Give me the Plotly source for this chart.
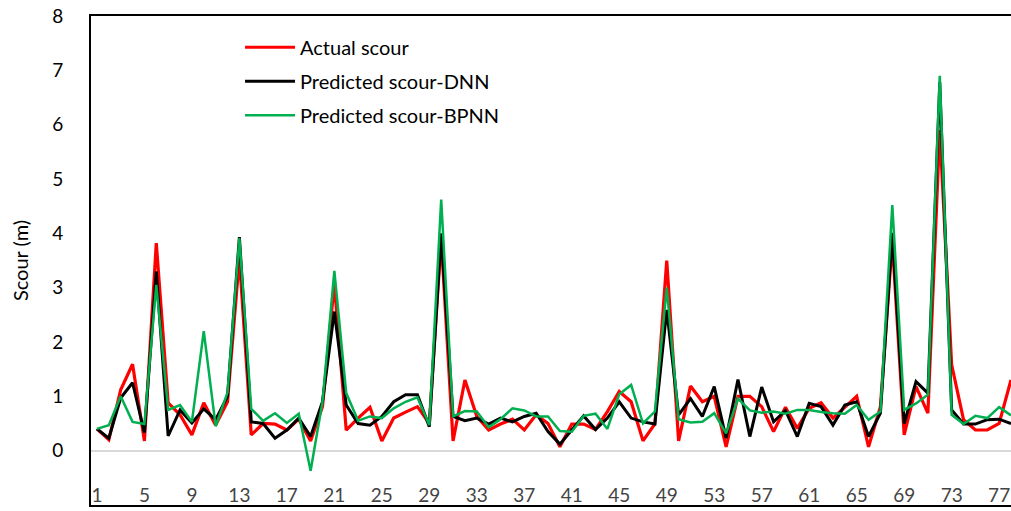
import plotly.graph_objects as go

cases = list(range(1, 79))
actual = [0.40, 0.20, 1.12, 1.59, 0.18, 3.82, 0.88, 0.66, 0.29, 0.88,
          0.47, 0.90, 3.55, 0.29, 0.50, 0.49, 0.38, 0.58, 0.18, 0.81,
          3.08, 0.38, 0.60, 0.80, 0.18, 0.60, 0.71, 0.81, 0.50, 3.90,
          0.18, 1.30, 0.63, 0.38, 0.49, 0.58, 0.38, 0.66, 0.50, 0.07,
          0.49, 0.49, 0.39, 0.72, 1.09, 0.90, 0.18, 0.49, 3.50, 0.18,
          1.19, 0.90, 1.00, 0.07, 1.00, 1.00, 0.81, 0.35, 0.80, 0.41,
          0.78, 0.88, 0.60, 0.81, 1.00, 0.07, 0.81, 3.85, 0.29, 1.18,
          0.69, 5.90, 1.58, 0.57, 0.38, 0.38, 0.50, 1.30]
dnn = [0.40, 0.23, 0.97, 1.25, 0.33, 3.30, 0.27, 0.75, 0.51, 0.77,
       0.57, 1.00, 3.93, 0.53, 0.50, 0.23, 0.38, 0.60, 0.26, 0.90,
       2.56, 0.84, 0.50, 0.47, 0.63, 0.90, 1.03, 1.03, 0.44, 4.00,
       0.63, 0.55, 0.60, 0.49, 0.60, 0.53, 0.63, 0.69, 0.35, 0.12,
       0.38, 0.64, 0.39, 0.60, 0.90, 0.60, 0.53, 0.49, 2.59, 0.66,
       0.96, 0.63, 1.18, 0.23, 1.31, 0.26, 1.17, 0.53, 0.74, 0.26,
       0.87, 0.81, 0.47, 0.84, 0.90, 0.26, 0.69, 4.01, 0.50, 1.27,
       1.06, 6.78, 0.75, 0.49, 0.49, 0.57, 0.58, 0.50]
bpnn = [0.40, 0.47, 1.00, 0.53, 0.49, 3.05, 0.75, 0.84, 0.53, 2.20,
        0.45, 1.07, 3.91, 0.77, 0.55, 0.69, 0.51, 0.68, -0.37, 0.90,
        3.31, 1.06, 0.55, 0.63, 0.60, 0.78, 0.90, 0.98, 0.47, 4.62,
        0.63, 0.73, 0.72, 0.43, 0.58, 0.78, 0.74, 0.63, 0.63, 0.36,
        0.35, 0.64, 0.68, 0.40, 1.04, 1.21, 0.50, 0.72, 3.00, 0.58,
        0.52, 0.53, 0.69, 0.32, 0.96, 0.74, 0.70, 0.72, 0.68, 0.75,
        0.75, 0.71, 0.69, 0.68, 0.84, 0.57, 0.72, 4.52, 0.75, 0.87,
        1.03, 6.90, 0.66, 0.49, 0.64, 0.60, 0.80, 0.65]
x_ticks = list(range(1, 78, 4))

FONT = "Lato"

fig = go.Figure()
fig.add_trace(go.Scatter(x=cases, y=actual, mode="lines", name="Actual scour",
                         line=dict(color="#FF0000", width=3.2), legendgroup="a"))
fig.add_trace(go.Scatter(x=cases, y=dnn, mode="lines", name="Predicted scour-DNN",
                         line=dict(color="#000000", width=3), legendgroup="b"))
fig.add_trace(go.Scatter(x=cases, y=bpnn, mode="lines", name="Predicted scour-BPNN",
                         line=dict(color="#00B050", width=2.5), legendgroup="c"))

fig.update_layout(
    width=1011, height=511,
    margin=dict(l=91, r=0, t=16, b=6, autoexpand=False),
    paper_bgcolor="white", plot_bgcolor="white",
    font=dict(family=FONT, size=19, color="#000000"),
    showlegend=True,
    legend=dict(x=0.162, y=0.976, xanchor="left", yanchor="top",
                bgcolor="rgba(0,0,0,0)", font=dict(family=FONT, size=20),
                tracegroupgap=5, itemwidth=50),
    xaxis=dict(range=[0.5, 78.0], tickmode="array", tickvals=x_ticks,
               ticktext=[str(v) for v in x_ticks], ticks="",
               ticklabelposition="inside", showgrid=False, zeroline=False,
               automargin=False,
               showline=True, linecolor="#000000", linewidth=2, mirror=True,
               tickfont=dict(family=FONT, size=19)),
    yaxis=dict(range=[-1, 8], dtick=1, ticks="", showgrid=False,
               zeroline=True, zerolinecolor="#D9D9D9", zerolinewidth=2,
               automargin=False,
               showline=True, linecolor="#000000", linewidth=2, mirror=False,
               ticklabelstandoff=22, tickfont=dict(family=FONT, size=19),
               title=dict(text="Scour (m)", standoff=18,
                          font=dict(family=FONT, size=20))),
)

fig.write_html("out.html", config={"displayModeBar": False},
               post_script="document.body.style.margin='0';document.body.style.overflow='hidden';")
